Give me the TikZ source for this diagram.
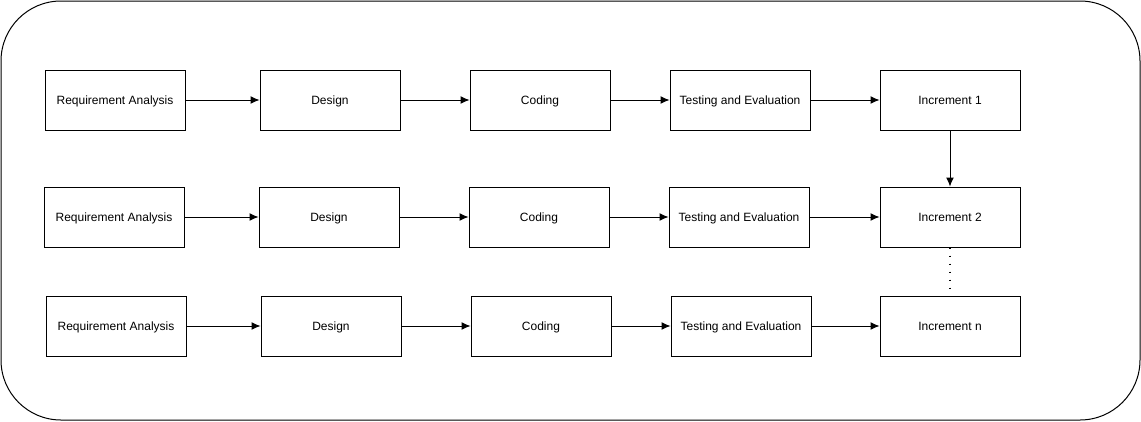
\documentclass[tikz,border=0pt]{standalone}
\usepackage{fontspec}
\setmainfont{Liberation Sans}
\usetikzlibrary{arrows.meta}
\begin{document}
\begin{tikzpicture}[
                            x=1pt, y=-1pt,
                            >={Latex[length=9pt,width=8pt]},
                            block/.style={rectangle, draw, line width=1pt, minimum width=140pt, minimum height=60pt, inner sep=0pt, text height=9.5pt, text depth=1.5pt, font=\fontsize{12}{14}\selectfont},
                            link/.style={->, line width=1pt}
                        ]
                        \useasboundingbox (0,0) rectangle (1141,421);
                        \draw [line width=1pt, rounded corners=60pt] (1,1) rectangle (1140,420);
                        % Blocks, first row
                        \node [block] (req1) at (115,100) {Requirement Analysis};
                        \node [block] (des1) at (330,100) {Design};
                        \node [block] (cod1) at (540,100) {Coding};
                        \node [block] (tst1) at (740,100) {Testing and Evaluation};
                        \node [block] (inc1) at (950,100) {Increment 1};
                        % Blocks, second row
                        \node [block] (req2) at (114,217) {Requirement Analysis};
                        \node [block] (des2) at (329,217) {Design};
                        \node [block] (cod2) at (539,217) {Coding};
                        \node [block] (tst2) at (739,217) {Testing and Evaluation};
                        \node [block] (inc2) at (950,217) {Increment 2};
                        % Blocks, last row
                        \node [block] (req3) at (116,326) {Requirement Analysis};
                        \node [block] (des3) at (331,326) {Design};
                        \node [block] (cod3) at (541,326) {Coding};
                        \node [block] (tst3) at (741,326) {Testing and Evaluation};
                        \node [block] (inc3) at (950,326) {Increment n};

                        % Connections
                        \draw [link] (req1) -- (des1);
                        \draw [link] (des1) -- (cod1);
                        \draw [link] (cod1) -- (tst1);
                        \draw [link] (tst1) -- (inc1);
                        \draw [link] (req2) -- (des2);
                        \draw [link] (des2) -- (cod2);
                        \draw [link] (cod2) -- (tst2);
                        \draw [link] (tst2) -- (inc2);
                        \draw [link] (req3) -- (des3);
                        \draw [link] (des3) -- (cod3);
                        \draw [link] (cod3) -- (tst3);
                        \draw [link] (tst3) -- (inc3);
                        \draw [link] (inc1) -- (inc2);
                        \draw [line width=1.5pt, dash pattern=on 1.5pt off 6.5pt] (inc2) -- (inc3);
                    \end{tikzpicture}
\end{document}
